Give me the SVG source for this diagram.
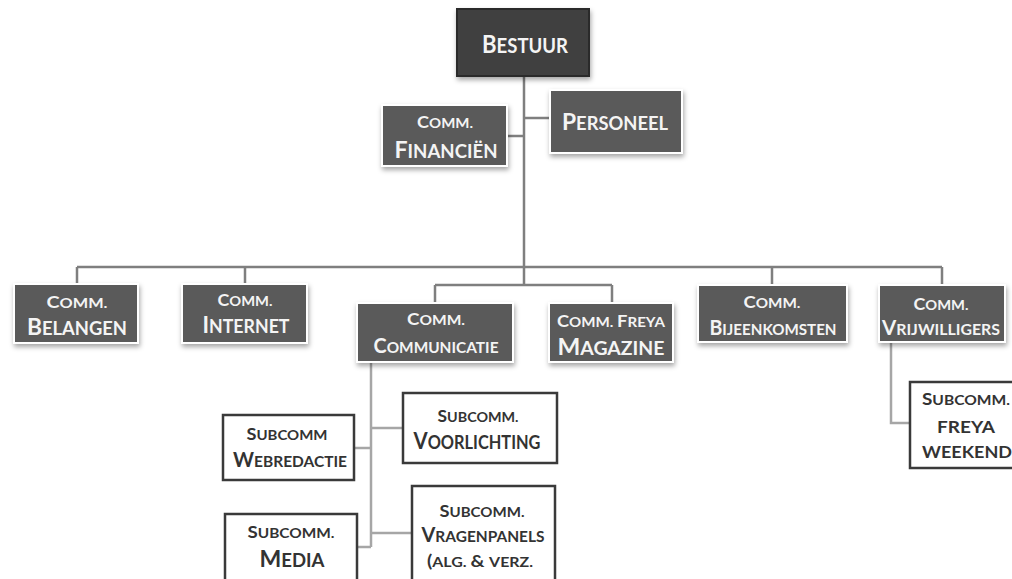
<svg xmlns="http://www.w3.org/2000/svg" width="1012" height="579" viewBox="0 0 1012 579">
<defs>
<filter id="sh" x="-10%" y="-10%" width="125%" height="135%">
<feDropShadow dx="1" dy="3" stdDeviation="2.5" flood-color="#000" flood-opacity="0.35"/>
</filter>
<style>
text{font-family:Lato,"Open Sans","Liberation Sans",sans-serif;font-weight:700;text-anchor:middle}
.top{fill:#3f3f3f;stroke:#2a2a2a;stroke-width:2}
.dk{fill:#5a5a5a;stroke:#ffffff;stroke-width:2}
.wt{fill:#ffffff;stroke:#3a3a3a;stroke-width:2.5}
.tw{fill:#f4f4f4}
.tb{fill:#333333}
.c1{fill:none;stroke:#7f7f7f;stroke-width:2.5}
.c2{fill:none;stroke:#a6a6a6;stroke-width:2.5}
.L{font-size:23px}
.S{font-size:18.5px}
.Ln{font-size:20px}
.Sn{font-size:15.5px}
.l{font-size:17px}
.s{font-size:14px}
</style>
</defs>
<rect width="1012" height="579" fill="#ffffff"/>
<g id="connectors">
<path class="c1" d="M524 76V285M524 118H550M507 136H524M77 267H942M77 267V284M245 267V284M772 267V285M942 267V285M435 285H612M435 285V303M612 285V303"/>
<path class="c2" d="M891 342V423H910M371 362V547M371 428H403M354 448H371M371 533H412M357 547H371"/>
</g>
<g id="bestuur">
<rect class="top" x="457" y="9" width="132" height="67" filter="url(#sh)"/>
<text class="tw" x="525" y="53" textLength="86" lengthAdjust="spacingAndGlyphs"><tspan font-size="25">B</tspan><tspan font-size="21">ESTUUR</tspan></text>
</g>
<g id="financien">
<rect class="dk" x="382" y="105" width="125" height="61" filter="url(#sh)"/>
<text class="tw" x="445" y="128" textLength="56" lengthAdjust="spacingAndGlyphs"><tspan class="l">C</tspan><tspan class="s">OMM.</tspan></text>
<text class="tw" x="446" y="158" textLength="103" lengthAdjust="spacingAndGlyphs"><tspan class="L">F</tspan><tspan class="S">INANCIËN</tspan></text>
</g>
<g id="personeel">
<rect class="dk" x="550" y="90" width="132" height="63" filter="url(#sh)"/>
<text class="tw" x="615" y="130" textLength="106" lengthAdjust="spacingAndGlyphs"><tspan class="L">P</tspan><tspan class="S">ERSONEEL</tspan></text>
</g>
<g id="belangen">
<rect class="dk" x="14" y="284" width="124" height="59" filter="url(#sh)"/>
<text class="tw" x="77" y="308" textLength="61" lengthAdjust="spacingAndGlyphs"><tspan class="l">C</tspan><tspan class="s">OMM.</tspan></text>
<text class="tw" x="77" y="335" textLength="100" lengthAdjust="spacingAndGlyphs"><tspan class="L">B</tspan><tspan class="S">ELANGEN</tspan></text>
</g>
<g id="internet">
<rect class="dk" x="182" y="284" width="125" height="59" filter="url(#sh)"/>
<text class="tw" x="245" y="306" textLength="55" lengthAdjust="spacingAndGlyphs"><tspan class="l">C</tspan><tspan class="s">OMM.</tspan></text>
<text class="tw" x="246" y="333" textLength="87" lengthAdjust="spacingAndGlyphs"><tspan class="L">I</tspan><tspan class="S">NTERNET</tspan></text>
</g>
<g id="communicatie">
<rect class="dk" x="357" y="303" width="156" height="59" filter="url(#sh)"/>
<text class="tw" x="436" y="325" textLength="58" lengthAdjust="spacingAndGlyphs"><tspan class="l">C</tspan><tspan class="s">OMM.</tspan></text>
<text class="tw" x="436" y="353" textLength="125" lengthAdjust="spacingAndGlyphs"><tspan class="Ln">C</tspan><tspan class="Sn">OMMUNICATIE</tspan></text>
</g>
<g id="freya-magazine">
<rect class="dk" x="549" y="303" width="124" height="59" filter="url(#sh)"/>
<text class="tw" x="611" y="327" textLength="108" lengthAdjust="spacingAndGlyphs"><tspan class="l">C</tspan><tspan class="s">OMM. </tspan><tspan class="l">F</tspan><tspan class="s">REYA</tspan></text>
<text class="tw" x="611" y="355" textLength="107" lengthAdjust="spacingAndGlyphs"><tspan class="L">M</tspan><tspan class="S">AGAZINE</tspan></text>
</g>
<g id="bijeenkomsten">
<rect class="dk" x="698" y="285" width="149" height="57" filter="url(#sh)"/>
<text class="tw" x="772" y="308" textLength="57" lengthAdjust="spacingAndGlyphs"><tspan class="l">C</tspan><tspan class="s">OMM.</tspan></text>
<text class="tw" x="773" y="335" textLength="127" lengthAdjust="spacingAndGlyphs"><tspan class="Ln">B</tspan><tspan class="Sn">IJEENKOMSTEN</tspan></text>
</g>
<g id="vrijwilligers">
<rect class="dk" x="879" y="285" width="126" height="57" filter="url(#sh)"/>
<text class="tw" x="941" y="310" textLength="55" lengthAdjust="spacingAndGlyphs"><tspan class="l">C</tspan><tspan class="s">OMM.</tspan></text>
<text class="tw" x="941" y="335" textLength="118" lengthAdjust="spacingAndGlyphs"><tspan class="Ln">V</tspan><tspan class="Sn">RIJWILLIGERS</tspan></text>
</g>
<g id="webredactie">
<rect class="wt" x="223" y="415" width="131" height="65"/>
<text class="tb" x="287" y="440" textLength="81" lengthAdjust="spacingAndGlyphs"><tspan class="l">S</tspan><tspan class="s">UBCOMM</tspan></text>
<text class="tb" x="290" y="467" textLength="114" lengthAdjust="spacingAndGlyphs"><tspan class="Ln">W</tspan><tspan class="Sn">EBREDACTIE</tspan></text>
</g>
<g id="voorlichting">
<rect class="wt" x="403" y="393" width="154" height="70"/>
<text class="tb" x="478" y="422" textLength="81" lengthAdjust="spacingAndGlyphs"><tspan class="l">S</tspan><tspan class="s">UBCOMM.</tspan></text>
<text class="tb" x="477" y="449" textLength="127" lengthAdjust="spacingAndGlyphs"><tspan class="L">V</tspan><tspan class="S">OORLICHTING</tspan></text>
</g>
<g id="media">
<rect class="wt" x="225" y="514" width="132" height="76"/>
<text class="tb" x="291" y="538" textLength="87" lengthAdjust="spacingAndGlyphs"><tspan class="l">S</tspan><tspan class="s">UBCOMM.</tspan></text>
<text class="tb" x="292" y="567" textLength="65" lengthAdjust="spacingAndGlyphs"><tspan class="L">M</tspan><tspan class="S">EDIA</tspan></text>
</g>
<g id="vragenpanels">
<rect class="wt" x="412" y="486" width="143" height="104"/>
<text class="tb" x="482" y="517" textLength="85" lengthAdjust="spacingAndGlyphs"><tspan class="l">S</tspan><tspan class="s">UBCOMM.</tspan></text>
<text class="tb" x="483" y="542" textLength="123" lengthAdjust="spacingAndGlyphs"><tspan class="Ln">V</tspan><tspan class="Sn">RAGENPANELS</tspan></text>
<text class="tb" x="480" y="567" textLength="106" lengthAdjust="spacingAndGlyphs"><tspan class="l">(</tspan><tspan class="s">ALG. </tspan><tspan class="l">&amp; </tspan><tspan class="s">VERZ.</tspan></text>
</g>
<g id="freya-weekend">
<rect class="wt" x="910" y="382" width="110" height="86"/>
<text class="tb" x="966" y="405" textLength="88" lengthAdjust="spacingAndGlyphs"><tspan class="l">S</tspan><tspan class="s">UBCOMM.</tspan></text>
<text class="tb" x="966" y="433" textLength="58" lengthAdjust="spacingAndGlyphs"><tspan class="l">FREYA</tspan></text>
<text class="tb" x="967" y="458" textLength="90" lengthAdjust="spacingAndGlyphs"><tspan class="l">WEEKEND</tspan></text>
</g>
</svg>
